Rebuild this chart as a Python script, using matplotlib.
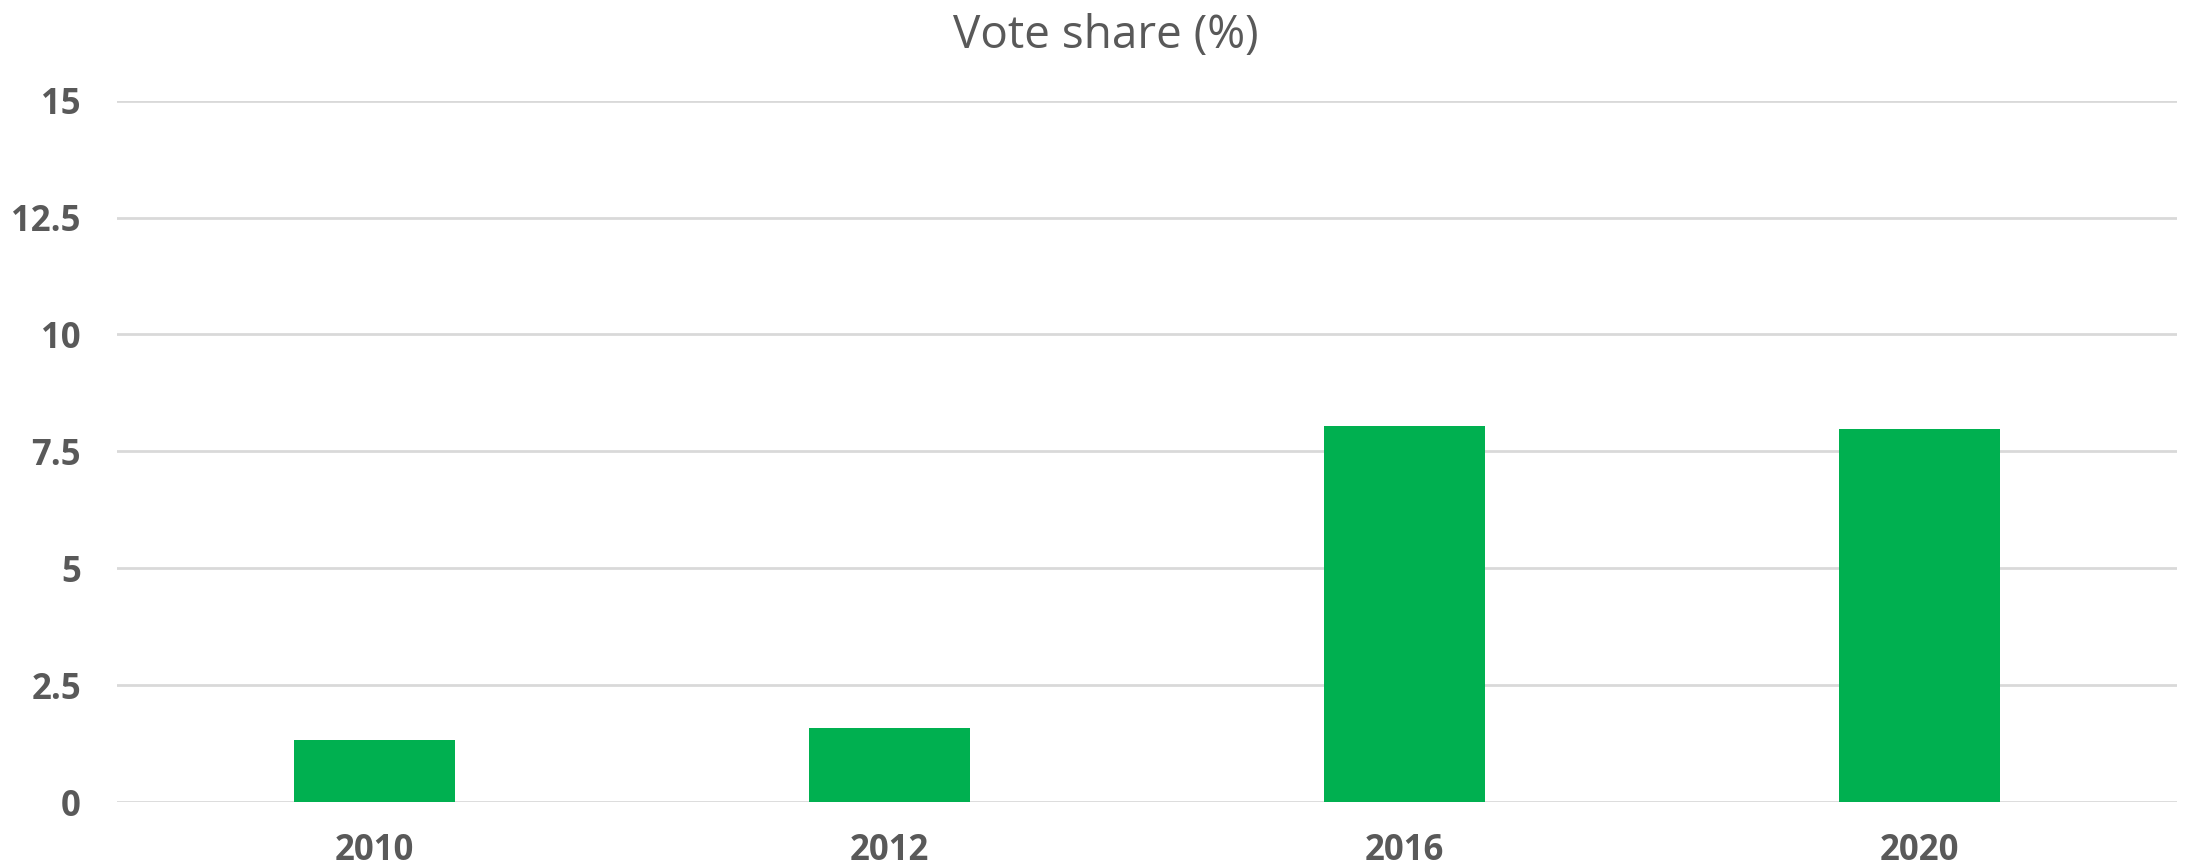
import matplotlib.pyplot as plt

years = ['2010', '2012', '2016', '2020']
vote_share = [1.32, 1.59, 8.04, 7.97]
y_ticks = [0, 2.5, 5, 7.5, 10, 12.5, 15]
y_labels = ['0', '2.5', '5', '7.5', '10', '12.5', '15']

green = '#00B050'
grey = '#595959'
grid_col = '#D9D9D9'

plt.rcParams['font.family'] = ['Open Sans', 'DejaVu Sans']

fig = plt.figure(figsize=(10.94, 4.34), dpi=200)
ax = fig.add_axes([0.0535, 0.076, 0.9415, 0.808])

x = range(len(years))
ax.bar(x, vote_share, width=0.313, color=green, zorder=3)

ax.set_xlim(-0.5, len(years) - 0.5)
ax.set_ylim(0, 15)
ax.set_yticks(y_ticks)
ax.set_yticklabels(y_labels)
ax.set_xticks(list(x))
ax.set_xticklabels(years)

for lab in ax.get_xticklabels() + ax.get_yticklabels():
    lab.set_fontweight('bold')
    lab.set_fontsize(12.5)
    lab.set_color(grey)

ax.tick_params(axis='both', length=0)
ax.tick_params(axis='y', pad=13)
ax.tick_params(axis='x', pad=11)

ax.grid(axis='y', color=grid_col, linewidth=1.0, zorder=0)
for s in ax.spines.values():
    s.set_visible(False)

fig.text(0.5055, 0.958, 'Vote share (%)', ha='center', va='center',
         fontsize=16.5, color=grey, fontweight='normal')

fig.savefig('out.png', dpi=200, facecolor='white')
